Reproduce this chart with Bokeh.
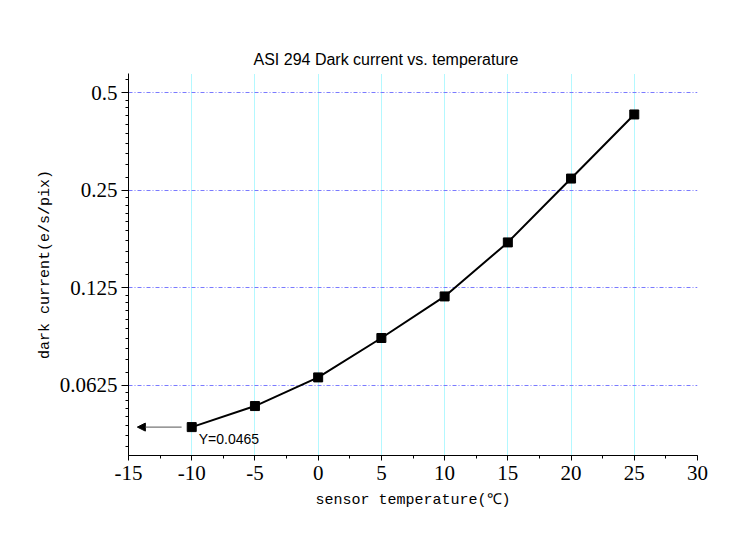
import numpy as np
from bokeh.plotting import figure
from bokeh.models import (Range1d, FixedTicker, SingleIntervalTicker, CustomJSTickFormatter,
                          Arrow, NormalHead, Label)
from bokeh.embed import file_html
from bokeh.resources import INLINE

# ---- data ----
temps = [-10, -5, 0, 5, 10, 15, 20, 25]
dark_current = [0.0465, 0.0540, 0.0662, 0.0876, 0.1177, 0.1728, 0.272, 0.429]
y_ticks = [0.0625, 0.125, 0.25, 0.5]
title_text = "ASI 294 Dark current vs. temperature"
x_label = "sensor temperature(\u2103)"
y_label = "dark current(e/s/pix)"

# minor ticks: linear subdivisions inside each octave
minor = []
lows = [y_ticks[0] / 2] + y_ticks
for lo in lows:
    step = lo / 10.0
    for k in range(1, 10):
        minor.append(lo + k * step)

p = figure(width=742, height=539, y_axis_type="log",
           x_range=Range1d(-15, 30), y_range=Range1d(0.038, 0.574),
           output_backend="svg", toolbar_location=None,
           min_border_left=128, min_border_right=45,
           min_border_top=73, min_border_bottom=84)
p.outline_line_color = None
p.background_fill_color = "white"
p.border_fill_color = "white"

p.title.text = title_text
p.title.text_font = "Liberation Sans"
p.title.text_font_size = "16px"
p.title.text_font_style = "normal"
p.title.text_color = "black"
p.title.align = "left"
p.title.offset = 125
p.title.standoff = 12

# axes
xa = p.xaxis[0]
xa.ticker = SingleIntervalTicker(interval=5, num_minor_ticks=2)
xa.formatter = CustomJSTickFormatter(code="return tick.toString();")
ya = p.yaxis[0]
ya.ticker = FixedTicker(ticks=y_ticks, minor_ticks=minor)
ya.formatter = CustomJSTickFormatter(code="return tick.toString();")

for ax in (xa, ya):
    ax.axis_line_color = "black"
    ax.major_tick_line_color = "black"
    ax.minor_tick_line_color = "black"
    ax.major_tick_in = 0
    ax.minor_tick_in = 0
    ax.minor_tick_out = 3
    ax.major_label_text_font = "Liberation Serif"
    ax.major_label_text_font_size = "21px"
    ax.major_label_text_color = "black"
    ax.axis_label_text_font = "Liberation Mono"
    ax.axis_label_text_font_size = "15px"
    ax.axis_label_text_font_style = "normal"
    ax.axis_label_text_color = "black"
xa.major_tick_out = 5
ya.major_tick_out = 7
xa.major_label_standoff = 5
ya.major_label_standoff = 4
xa.axis_label = x_label
ya.axis_label = y_label
xa.axis_label_standoff = 9
ya.axis_label_standoff = 3

# grids
p.xgrid.ticker = FixedTicker(ticks=temps)
p.xgrid.grid_line_color = "#66f0ff"
p.xgrid.grid_line_dash = "1 1"
p.xgrid.grid_line_width = 1
p.ygrid.grid_line_color = "#7a7aff"
p.ygrid.grid_line_dash = "4 2 1 2"
p.ygrid.grid_line_width = 1

# series
p.line(temps, dark_current, line_width=2, color="black")
p.scatter(temps, dark_current, marker="square", size=9, color="black")

# annotation
arrow = Arrow(end=NormalHead(size=8, fill_color="black", line_color="black"),
              x_start=temps[0] - 0.8, y_start=dark_current[0],
              x_end=temps[0] - 4.3, y_end=dark_current[0],
              line_color="#555555", line_width=1)
p.add_layout(arrow)
lab = Label(x=temps[0], y=dark_current[0], text=f"Y={dark_current[0]}",
            x_offset=7, y_offset=-4, text_baseline="top",
            text_font="Liberation Sans", text_font_size="14px", text_color="black")
p.add_layout(lab)

open("out.html", "w").write(file_html(p, INLINE))
